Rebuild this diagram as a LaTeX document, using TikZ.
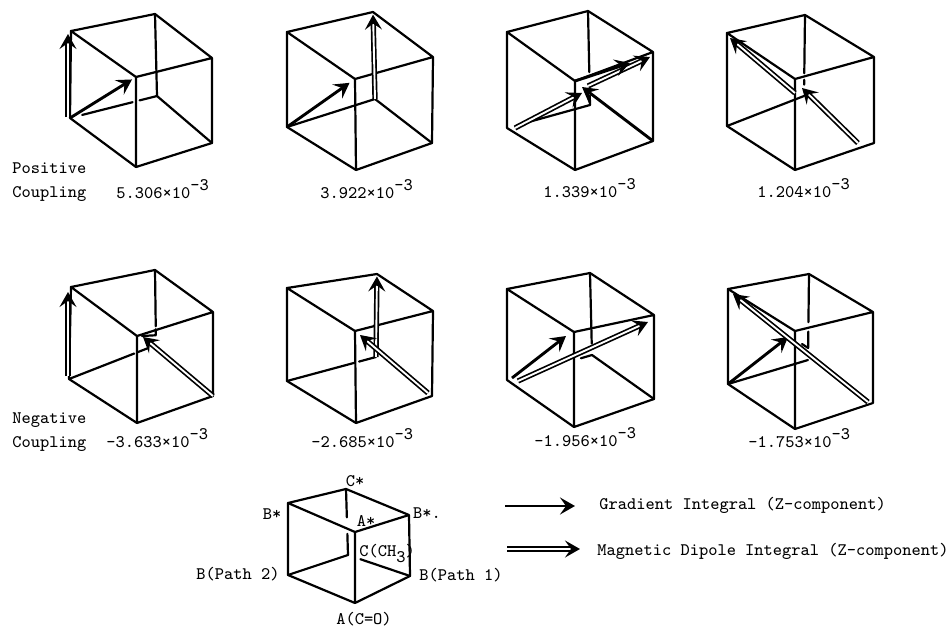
\documentclass[tikz,border=0pt]{standalone}
\usepackage{tikz}
\usetikzlibrary{arrows.meta, calc}
\tikzset{
  every node/.style={font=\ttfamily\fontsize{8.8}{10}\selectfont, inner sep=0pt, text=black},
  edge/.style={line width=1.1pt, line join=round, line cap=round},
  arrGrad/.style={-{Stealth[length=7.5pt, width=8.5pt, inset=3pt]}, line width=1.45pt},
  arrDip/.style={-{Stealth[length=7.5pt, width=8.5pt, inset=3pt]}, double, double distance=.95pt, line width=.85pt},
  val/.style={anchor=base west},
  lbl/.style={anchor=center},
}
\newcommand{\tenexp}{×10\raisebox{4pt}{-3}}
% #1 prefix, then top-left, top, top-right, front, bottom-right, bottom, bottom-left, back
\newcommand{\cubeframe}[9]{
  \coordinate (#1TL) at (#2); \coordinate (#1T) at (#3); \coordinate (#1TR) at (#4);
  \coordinate (#1F) at (#5); \coordinate (#1BR) at (#6); \coordinate (#1B) at (#7);
  \coordinate (#1BL) at (#8); \coordinate (#1K) at (#9);
  \draw[edge] (#1F) -- (#1TL) -- (#1T) -- (#1TR) -- (#1F) -- (#1B) -- (#1BR) -- (#1TR);
  \draw[edge] (#1TL) -- (#1BL) -- (#1B);
}
\begin{document}
\begin{tikzpicture}[x=0.5pt, y=-0.5pt]
  \useasboundingbox (0,0) rectangle (949,627);
  % positive row
  \cubeframe{one}{71,31}{155,14}{212,58}{136,77}{212,143}{136,167}{70,118}{157,96}
  \draw[edge] (oneT) -- (oneK) -- (oneBR);
  \draw[edge] ($(oneBL)!.14!(oneK)$) -- ($(oneBL)!.72!(oneK)$);
  \draw[edge] ($(oneBL)!.80!(oneK)$) -- (oneK);
  \draw[arrGrad] (oneBL) -- ($(oneBL)!.94!(oneF)$);
  \draw[arrDip] (68,117) -- (68,34);
  \node[val] (txtPos) at (12,173) {Positive};
  \node[val] (txtCoupA) at (12,197) {Coupling};
  \node[val] (valOne) at (116,198) {5.306\tenexp};

  \cubeframe{two}{287,32}{373,12}{433,57}{355,79}{432,143}{356,170}{287,127}{375,99}
  \draw[edge] (twoBL) -- (twoK) -- (twoBR);
  \draw[arrGrad] (twoBL) -- ($(twoBL)!.92!(twoF)$);
  \draw[arrDip] (twoK) -- ($(twoK)!.97!(twoT)$);
  \node[val] (valTwo) at (320,198) {3.922\tenexp};

  \cubeframe{three}{507,32}{588,11}{653,52}{575,81}{653,141}{575,170}{507,128}{590,105}
  \draw[edge] (threeT) -- ($(threeT)!.65!(threeK)$);
  \draw[edge] ($(threeT)!.9!(threeK)$) -- (threeK);
  \draw[edge] ($(threeBL)!.15!(threeK)$) -- (threeK);
  \coordinate (threeA) at (515,128); \coordinate (threeB) at (582,93);
  \coordinate (threeC) at (588,86); \coordinate (threeD) at (650,57);
  \coordinate (threeE) at (582,87); \coordinate (threeG) at (630,63);
  \draw[arrDip] (threeA) -- (threeB);
  \draw[arrDip] (threeC) -- (threeD);
  \draw[arrGrad] (threeBR) -- (threeE);
  \draw[arrGrad] (threeF) -- (threeG);
  \node[val] (valThree) at (543,197) {1.339\tenexp};

  \cubeframe{four}{727,33}{805,15}{874,57}{795,79}{874,143}{795,170}{727,126}{804,96}
  \draw[edge] (fourT) -- ($(fourT)!.72!(fourK)$);
  \draw[edge] ($(fourT)!.8!(fourK)$) -- ($(fourT)!.86!(fourK)$);
  \draw[edge] (fourBL) -- (fourK);
  \coordinate (fourA) at (858,143); \coordinate (fourB) at (802,88);
  \coordinate (fourC) at (795,93); \coordinate (fourD) at (730,38);
  \draw[arrDip] (fourA) -- (fourB);
  \draw[arrDip] (fourC) -- (fourD);
  \node[val] (valFour) at (757,197) {1.204\tenexp};

  % negative row
  \cubeframe{five}{71,287}{155,270}{213,312}{137,336}{213,396}{137,423}{69,379}{156,345}
  \draw[edge] (fiveT) -- ($(fiveT)!.75!(fiveK)$);
  \draw[edge] ($(fiveT)!.79!(fiveK)$) -- ($(fiveT)!.87!(fiveK)$) -- (142,336);
  \draw[edge] (fiveBL) -- ($(fiveBL)!.75!(fiveK)$);
  \draw[edge] ($(fiveBL)!.79!(fiveK)$) -- ($(fiveBL)!.9!(fiveK)$);
  \draw[arrDip] (68,376) -- (68,292);
  \draw[arrDip] (fiveBR) -- (143,337);
  \node[val] (txtNeg) at (12,423) {Negative};
  \node[val] (txtCoupB) at (12,447) {Coupling};
  \node[val] (valFive) at (106,447) {-3.633\tenexp};

  \cubeframe{six}{287,288}{377,274}{433,311}{355,331}{432,396}{356,423}{287,381}{376,357}
  \draw[edge] (sixBL) -- ($(sixBL)!.76!(sixK)$);
  \draw[edge] ($(sixBL)!.81!(sixK)$) -- (sixK);
  \draw[arrDip] (sixK) -- ($(sixK)!.97!(sixT)$);
  \coordinate (sixA) at (428,393); \coordinate (sixB) at (360,335);
  \draw[arrDip] (sixA) -- (sixB);
  \node[val] (valSix) at (311,447) {-2.685\tenexp};

  \cubeframe{seven}{507,289}{590,273}{654,315}{574,332}{654,399}{574,427}{507,380}{592,355}
  \draw[edge] (sevenT) -- ($(sevenT)!.86!(sevenK)$);
  \draw[edge] ($(sevenBL)!.87!(sevenK)$) -- (sevenK) -- (sevenBR);
  \coordinate (sevenA) at (512,378); \coordinate (sevenB) at (566,336);
  \coordinate (sevenC) at (518,381); \coordinate (sevenD) at (648,322);
  \draw[arrGrad] (sevenA) -- (sevenB);
  \draw[arrDip] (sevenC) -- (sevenD);
  \node[val] (valSeven) at (534,446) {-1.956\tenexp};

  \cubeframe{eight}{728,289}{809,274}{873,312}{795,331}{873,403}{795,429}{728,384}{808,360}
  \draw[edge] (eightT) -- ($(eightT)!.56!(eightK)$);
  \draw[edge] ($(eightT)!.67!(eightK)$) -- ($(eightT)!.86!(eightK)$) -- (802,344);
  \draw[edge] (eightBL) -- (eightK);
  \coordinate (eightA) at (868,402); \coordinate (eightB) at (733,294);
  \coordinate (eightC) at (788,337);
  \draw[arrGrad] (eightBL) -- (eightC);
  \draw[arrDip] (eightA) -- (eightB);
  \node[val] (valEight) at (748,447) {-1.753\tenexp};

  % legend cube
  \cubeframe{leg}{288,503}{346,489}{409,515}{355,532}{410,576}{355,603}{288,575}{348,555}
  \draw[edge] (legT) -- ($(legT)!.43!(legK)$);
  \draw[edge] ($(legT)!.68!(legK)$) -- (legK);
  \draw[edge] (legBL) -- (legK);
  \draw[edge] ($(legK)!.2!(legBR)$) -- (legBR);
  \node[lbl] (labCs) at (355,481) {C*};
  \node[lbl] (labBs) at (272,514) {B*};
  \node[lbl] (labBsr) at (427,513) {B*.};
  \node[lbl] (labAs) at (366,521) {A*};
  \node[val] (labC) at (359,556) {C(CH\raisebox{-3pt}{3})};
  \node[lbl] (labBtwo) at (238,574) {B(Path 2)};
  \node[lbl] (labBone) at (461,575) {B(Path 1)};
  \node[lbl] (labA) at (364,619) {A(C=O)};
  % key
  \coordinate (keyA) at (505,506); \coordinate (keyB) at (575,506);
  \coordinate (keyC) at (507,549); \coordinate (keyD) at (580,549);
  \draw[arrGrad] (keyA) -- (keyB);
  \draw[arrDip] (keyC) -- (keyD);
  \node[val] (txtGrad) at (599,509) {Gradient Integral (Z-component)};
  \node[val] (txtMag) at (597,555) {Magnetic Dipole Integral (Z-component)};
\end{tikzpicture}
\end{document}
